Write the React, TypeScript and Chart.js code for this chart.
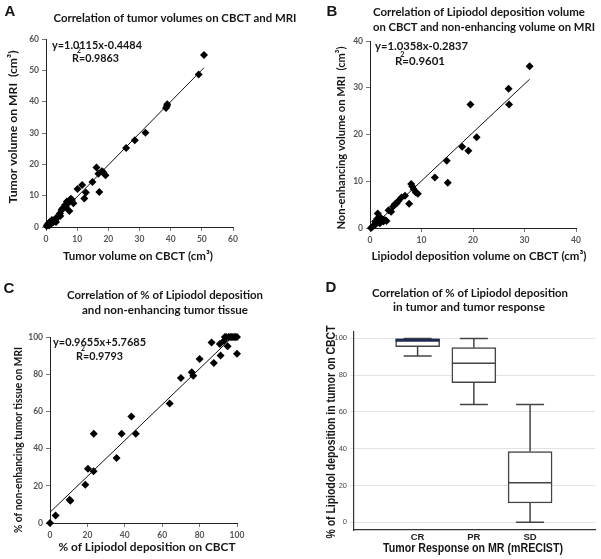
import React, { useEffect, useRef } from "react";
import { Chart, registerables } from "chart.js";

Chart.register(...registerables);

// ---------- Panel A data ----------
const aCbct = [0.2, 0.5, 0.8, 1.0, 1.3, 1.6, 1.9, 2.2, 2.4, 2.7, 2.9, 3.2, 3.4, 3.9, 4.2, 4.5, 4.6, 5.0, 5.3, 5.6, 6.1, 6.4, 6.7, 7.1, 7.5, 7.7, 8.0, 8.3, 8.8, 10.1, 11.6, 12.3, 12.8, 14.9, 16.2, 16.8, 17.1, 17.9, 18.4, 19.1, 25.7, 28.5, 31.9, 38.5, 38.8, 38.9, 49.0, 50.7];
const aMri = [0.3, 0.8, 1.2, 0.5, 1.7, 1.0, 2.2, 1.4, 1.8, 2.4, 1.9, 1.6, 2.8, 3.4, 3.8, 4.4, 3.5, 5.4, 5.9, 6.1, 7.0, 6.3, 8.1, 7.6, 5.1, 8.6, 9.0, 8.6, 7.6, 12.1, 13.4, 9.1, 11.0, 14.4, 19.0, 17.0, 11.2, 17.8, 17.5, 16.5, 25.2, 27.7, 30.1, 38.0, 38.6, 39.2, 48.7, 54.9];
const aFitX = [0.44, 50.7];
const aFitY = [0, 50.83];
const aTicks = [0, 10, 20, 30, 40, 50, 60];

// ---------- Panel B data ----------
const bCbct = [0.2, 0.5, 0.8, 1.0, 1.2, 1.4, 1.5, 1.7, 1.9, 2.1, 2.3, 2.6, 2.9, 3.2, 3.6, 4.1, 4.5, 4.8, 5.2, 5.5, 6.1, 6.8, 7.6, 8.0, 8.2, 8.5, 8.9, 9.3, 12.6, 14.9, 15.1, 17.9, 19.1, 19.5, 20.7, 26.9, 27.0, 31.0];
const bMri = [0.0, 0.3, 0.6, 1.4, 0.9, 2.0, 3.1, 1.4, 1.0, 2.2, 1.7, 1.4, 1.7, 1.5, 3.8, 3.5, 4.6, 5.1, 5.3, 5.8, 6.5, 6.9, 5.2, 9.4, 8.9, 8.3, 7.6, 7.3, 10.8, 14.4, 9.7, 17.4, 16.5, 26.4, 19.4, 29.8, 26.4, 34.6];
const bFitX = [0.27, 31.0];
const bFitY = [0, 31.83];
const bTicks = [0, 10, 20, 30, 40];

// ---------- Panel C data ----------
const cLip = [0, 3, 10.5, 10.9, 18.9, 20.3, 23.3, 23.4, 35.6, 38.3, 43.5, 45.9, 64, 70, 75.8, 76.6, 80, 86.4, 87.6, 90.8, 91.2, 93, 93.5, 94.2, 95, 95.5, 96.3, 97, 97.8, 98.5, 99.2, 100, 100];
const cNon = [0, 4, 12.5, 12.0, 20.5, 29.2, 27.8, 48, 34.9, 48, 57.3, 48, 64.3, 78, 81, 79.2, 88.2, 97.1, 86, 96.2, 90, 98, 100, 100, 95, 100, 100, 100, 100, 100, 100, 100, 91];
const cFitX = [0, 97];
const cFitY = [5.77, 99.42];
const cTicks = [0, 20, 40, 60, 80, 100];

// ---------- Panel D data ----------
const dCategories = ["CR", "PR", "SD"];
const dMin = [90.5, 64, 0];
const dQ1 = [95.5, 76, 10.5];
const dMedian = [99.0, 86.5, 21.5];
const dQ3 = [99.8, 95, 38.5];
const dMax = [100, 100, 64];
const dTicks = [0, 20, 40, 60, 80, 100];

// ---------- styles ----------
const medianColors = ["#1e2a52", "#444", "#444"];
const medianWidths = [3, 1.5, 1.5];
const TF = "Lato";

type TextItem = {
  t: string;
  x: number;
  y: number;
  font: string;
  color?: string;
  align?: "left" | "center";
  w?: number;
  rot?: boolean;
  r2?: boolean;
};

function textPlugin(items: TextItem[]) {
  return {
    id: "texts",
    afterDraw(chart: any) {
      const ctx: CanvasRenderingContext2D = chart.ctx;
      for (const it of items) {
        ctx.save();
        ctx.font = it.font;
        ctx.fillStyle = it.color || "#161616";
        ctx.textBaseline = "middle";
        ctx.translate(it.x, it.y);
        if (it.rot) ctx.rotate(-Math.PI / 2);
        if (it.r2) {
          const rW = ctx.measureText("R").width;
          const rest = it.t;
          const total = rW + ctx.measureText(rest).width;
          const s = it.w ? it.w / total : 1;
          ctx.scale(s, 1);
          ctx.textAlign = "left";
          ctx.fillText("R", 0, 0);
          ctx.fillText(rest, rW, 0);
          const base = ctx.font;
          ctx.font = base.replace(/\d+(\.\d+)?px/, "7px");
          ctx.textAlign = "center";
          ctx.fillText("2", rW, -7);
        } else {
          const nat = ctx.measureText(it.t).width;
          const s = it.w ? it.w / nat : 1;
          ctx.scale(s, 1);
          ctx.textAlign = it.align || "center";
          ctx.fillText(it.t, 0, 0);
        }
        ctx.restore();
      }
    },
  };
}

function boxPlugin() {
  return {
    id: "boxes",
    afterDatasetsDraw(chart: any) {
      const ctx: CanvasRenderingContext2D = chart.ctx;
      const xs = chart.scales.x;
      const ys = chart.scales.y;
      const boxHalf = 22;
      const capHalf = 14;
      ctx.save();
      dCategories.forEach((_c, i) => {
        const cx = xs.getPixelForValue(i);
        const yMin = ys.getPixelForValue(dMin[i]);
        const yMax = ys.getPixelForValue(dMax[i]);
        const yQ1 = ys.getPixelForValue(dQ1[i]);
        const yQ3 = ys.getPixelForValue(dQ3[i]);
        const yMed = ys.getPixelForValue(dMedian[i]);
        ctx.strokeStyle = "#444";
        ctx.lineWidth = 1.5;
        ctx.beginPath();
        ctx.moveTo(cx, yQ1);
        ctx.lineTo(cx, yMin);
        ctx.moveTo(cx - capHalf, yMin);
        ctx.lineTo(cx + capHalf, yMin);
        ctx.moveTo(cx, yQ3);
        ctx.lineTo(cx, yMax);
        ctx.moveTo(cx - capHalf, yMax);
        ctx.lineTo(cx + capHalf, yMax);
        ctx.stroke();
        ctx.strokeStyle = medianColors[i];
        ctx.lineWidth = medianWidths[i];
        ctx.beginPath();
        ctx.moveTo(cx - boxHalf, yMed);
        ctx.lineTo(cx + boxHalf, yMed);
        ctx.stroke();
      });
      ctx.restore();
    },
  };
}

function scatterAxis(min: number, max: number, ticks: number[], isX: boolean) {
  return {
    type: "linear",
    min,
    max,
    afterBuildTicks: (s: any) => {
      s.ticks = ticks.map((v) => ({ value: v }));
    },
    afterFit: (s: any) => {
      if (isX) s.height = 20;
      else s.width = 30;
    },
    grid: { drawOnChartArea: false, drawTicks: true, tickLength: 4, color: "#777" },
    border: { color: "#222", width: 1 },
    ticks: {
      font: { family: TF, weight: "bold", size: 8.5 },
      color: "#555",
      padding: 3,
      maxRotation: 0,
      autoSkip: false,
    },
  };
}

function scatterConfig(
  xs: number[],
  ys: number[],
  fx: number[],
  fy: number[],
  xMax: number,
  yMax: number,
  xt: number[],
  yt: number[],
  padding: any,
  texts: TextItem[]
) {
  return {
    type: "scatter",
    data: {
      datasets: [
        {
          data: xs.map((x, i) => ({ x, y: ys[i] })),
          pointStyle: "rectRot",
          pointRadius: 4,
          backgroundColor: "#000",
          borderColor: "#000",
          borderWidth: 0,
          clip: false,
        },
        {
          data: fx.map((x, i) => ({ x, y: fy[i] })),
          showLine: true,
          pointRadius: 0,
          borderColor: "#111",
          borderWidth: 1,
          clip: false,
        },
      ],
    },
    options: {
      responsive: false,
      animation: false,
      layout: { padding },
      plugins: { legend: { display: false }, tooltip: { enabled: false } },
      scales: {
        x: scatterAxis(0, xMax, xt, true),
        y: scatterAxis(0, yMax, yt, false),
      },
    },
    plugins: [textPlugin(texts)],
  };
}

const titleFont = `bold 12px ${TF}`;
const eqFont = `bold 11px ${TF}`;
const letterFont = "bold 15px 'Liberation Sans'";

function configA() {
  return scatterConfig(aCbct, aMri, aFitX, aFitY, 60, 60, aTicks, aTicks,
    { left: 16, right: 67, top: 39, bottom: 33 },
    [
      { t: "A", x: 10, y: 12, font: letterFont },
      { t: "Correlation of tumor volumes on CBCT and MRI", x: 175, y: 18, font: titleFont, w: 243 },
      { t: "y=1.0115x-0.4484", x: 52, y: 45, font: eqFont, align: "left", w: 90 },
      { t: "=0.9863", x: 72, y: 58, font: eqFont, w: 47, r2: true },
      { t: "Tumor volume on CBCT (cm³)", x: 138, y: 256, font: titleFont, w: 150 },
      { t: "Tumor volume on MRI  (cm³)", x: 13, y: 127, font: titleFont, w: 153, rot: true },
    ]);
}

function configB() {
  return scatterConfig(bCbct, bMri, bFitX, bFitY, 40, 40, bTicks, bTicks,
    { left: 40, right: 25, top: 41, bottom: 32 },
    [
      { t: "B", x: 32, y: 12, font: letterFont },
      { t: "Correlation of Lipiodol deposition volume", x: 73, y: 12, font: titleFont, align: "left", w: 212 },
      { t: "on CBCT and non-enhancing volume on MRI", x: 73, y: 27, font: titleFont, align: "left", w: 222 },
      { t: "y=1.0358x-0.2837", x: 75, y: 46.5, font: eqFont, align: "left", w: 93 },
      { t: "=0.9601", x: 95, y: 61.5, font: eqFont, w: 50, r2: true },
      { t: "Lipiodol deposition volume on CBCT (cm³)", x: 179, y: 256, font: titleFont, w: 215 },
      { t: "Non-enhancing volume on MRI  (cm³)", x: 41, y: 138, font: titleFont, w: 183, rot: true },
    ]);
}

function configC() {
  return scatterConfig(cLip, cNon, cFitX, cFitY, 100, 100, cTicks, cTicks,
    { left: 20, right: 63, top: 57, bottom: 16 },
    [
      { t: "C", x: 9, y: 9, font: letterFont },
      { t: "Correlation of % of Lipiodol deposition", x: 165, y: 15, font: titleFont, w: 196 },
      { t: "and non-enhancing tumor tissue", x: 165, y: 30, font: titleFont, w: 166 },
      { t: "y=0.9655x+5.7685", x: 53, y: 62.5, font: eqFont, align: "left", w: 93 },
      { t: "=0.9793", x: 76, y: 76, font: eqFont, w: 47, r2: true },
      { t: "% of Lipiodol deposition on CBCT", x: 147, y: 267, font: titleFont, w: 177 },
      { t: "% of non-enhancing tumor tissue on MRI", x: 18, y: 160, font: titleFont, w: 186, rot: true },
    ]);
}

function configD() {
  const arial = "'Liberation Sans'";
  return {
    type: "bar",
    data: {
      datasets: [
        {
          data: dCategories.map((_c, i) => ({ x: i, y: [dQ1[i], dQ3[i]] })),
          backgroundColor: "#fff",
          borderColor: "#444",
          borderWidth: 1.5,
          borderSkipped: false,
          barThickness: 44,
        },
      ],
    },
    options: {
      responsive: false,
      animation: false,
      layout: { padding: { left: 24, right: 6, top: 52, bottom: 9 } },
      plugins: { legend: { display: false }, tooltip: { enabled: false } },
      scales: {
        x: {
          type: "linear",
          min: -0.417,
          max: 2.44,
          afterBuildTicks: (s: any) => {
            s.ticks = dCategories.map((_c, i) => ({ value: i }));
          },
          afterFit: (s: any) => {
            s.height = 20;
          },
          grid: { display: true, drawOnChartArea: false, drawTicks: false },
          border: { color: "#333", width: 1.2 },
          ticks: {
            callback: (v: any) => dCategories[Math.round(v)] ?? "",
            font: { family: arial, weight: "bold", size: 9.5 },
            color: "#222",
            padding: 2,
            maxRotation: 0,
            autoSkip: false,
          },
        },
        y: {
          type: "linear",
          min: -4.2,
          max: 103.5,
          afterBuildTicks: (s: any) => {
            s.ticks = dTicks.map((v) => ({ value: v }));
          },
          afterFit: (s: any) => {
            s.width = 30;
          },
          grid: { drawOnChartArea: true, drawTicks: true, tickLength: 4, color: "#dfe4ea", lineWidth: 1 },
          border: { color: "#333", width: 1.2 },
          ticks: {
            font: { family: arial, size: 7.5 },
            color: "#444",
            padding: 3,
            autoSkip: false,
          },
        },
      },
    },
    plugins: [
      boxPlugin(),
      textPlugin([
        { t: "D", x: 31, y: 8, font: letterFont },
        { t: "Correlation of % of Lipiodol deposition", x: 170, y: 13, font: titleFont, w: 196 },
        { t: "in tumor and tumor response", x: 169, y: 27, font: titleFont, w: 152 },
        { t: "Tumor Response on MR (mRECIST)", x: 173, y: 268, font: `bold 13px ${arial}`, w: 180 },
        { t: "% of Lipiodol deposition in tumor on CBCT", x: 32, y: 152, font: `bold 12px ${arial}`, w: 213, rot: true },
      ]),
    ],
  };
}

function Panel(props: { left: number; top: number; width: number; height: number; make: () => any }) {
  const ref = useRef<HTMLCanvasElement | null>(null);
  useEffect(() => {
    if (!ref.current) return;
    const chart = new Chart(ref.current, props.make());
    return () => chart.destroy();
  }, []);
  return (
    <canvas
      ref={ref}
      width={props.width}
      height={props.height}
      style={{ position: "absolute", left: props.left, top: props.top, width: props.width, height: props.height }}
    />
  );
}

export default function App() {
  return (
    <div style={{ position: "absolute", left: 0, top: 0, width: 601, height: 559, background: "#fff", overflow: "hidden" }}>
      <Panel left={0} top={0} width={300} height={280} make={configA} />
      <Panel left={300} top={0} width={301} height={280} make={configB} />
      <Panel left={0} top={280} width={300} height={279} make={configC} />
      <Panel left={300} top={280} width={301} height={279} make={configD} />
    </div>
  );
}
